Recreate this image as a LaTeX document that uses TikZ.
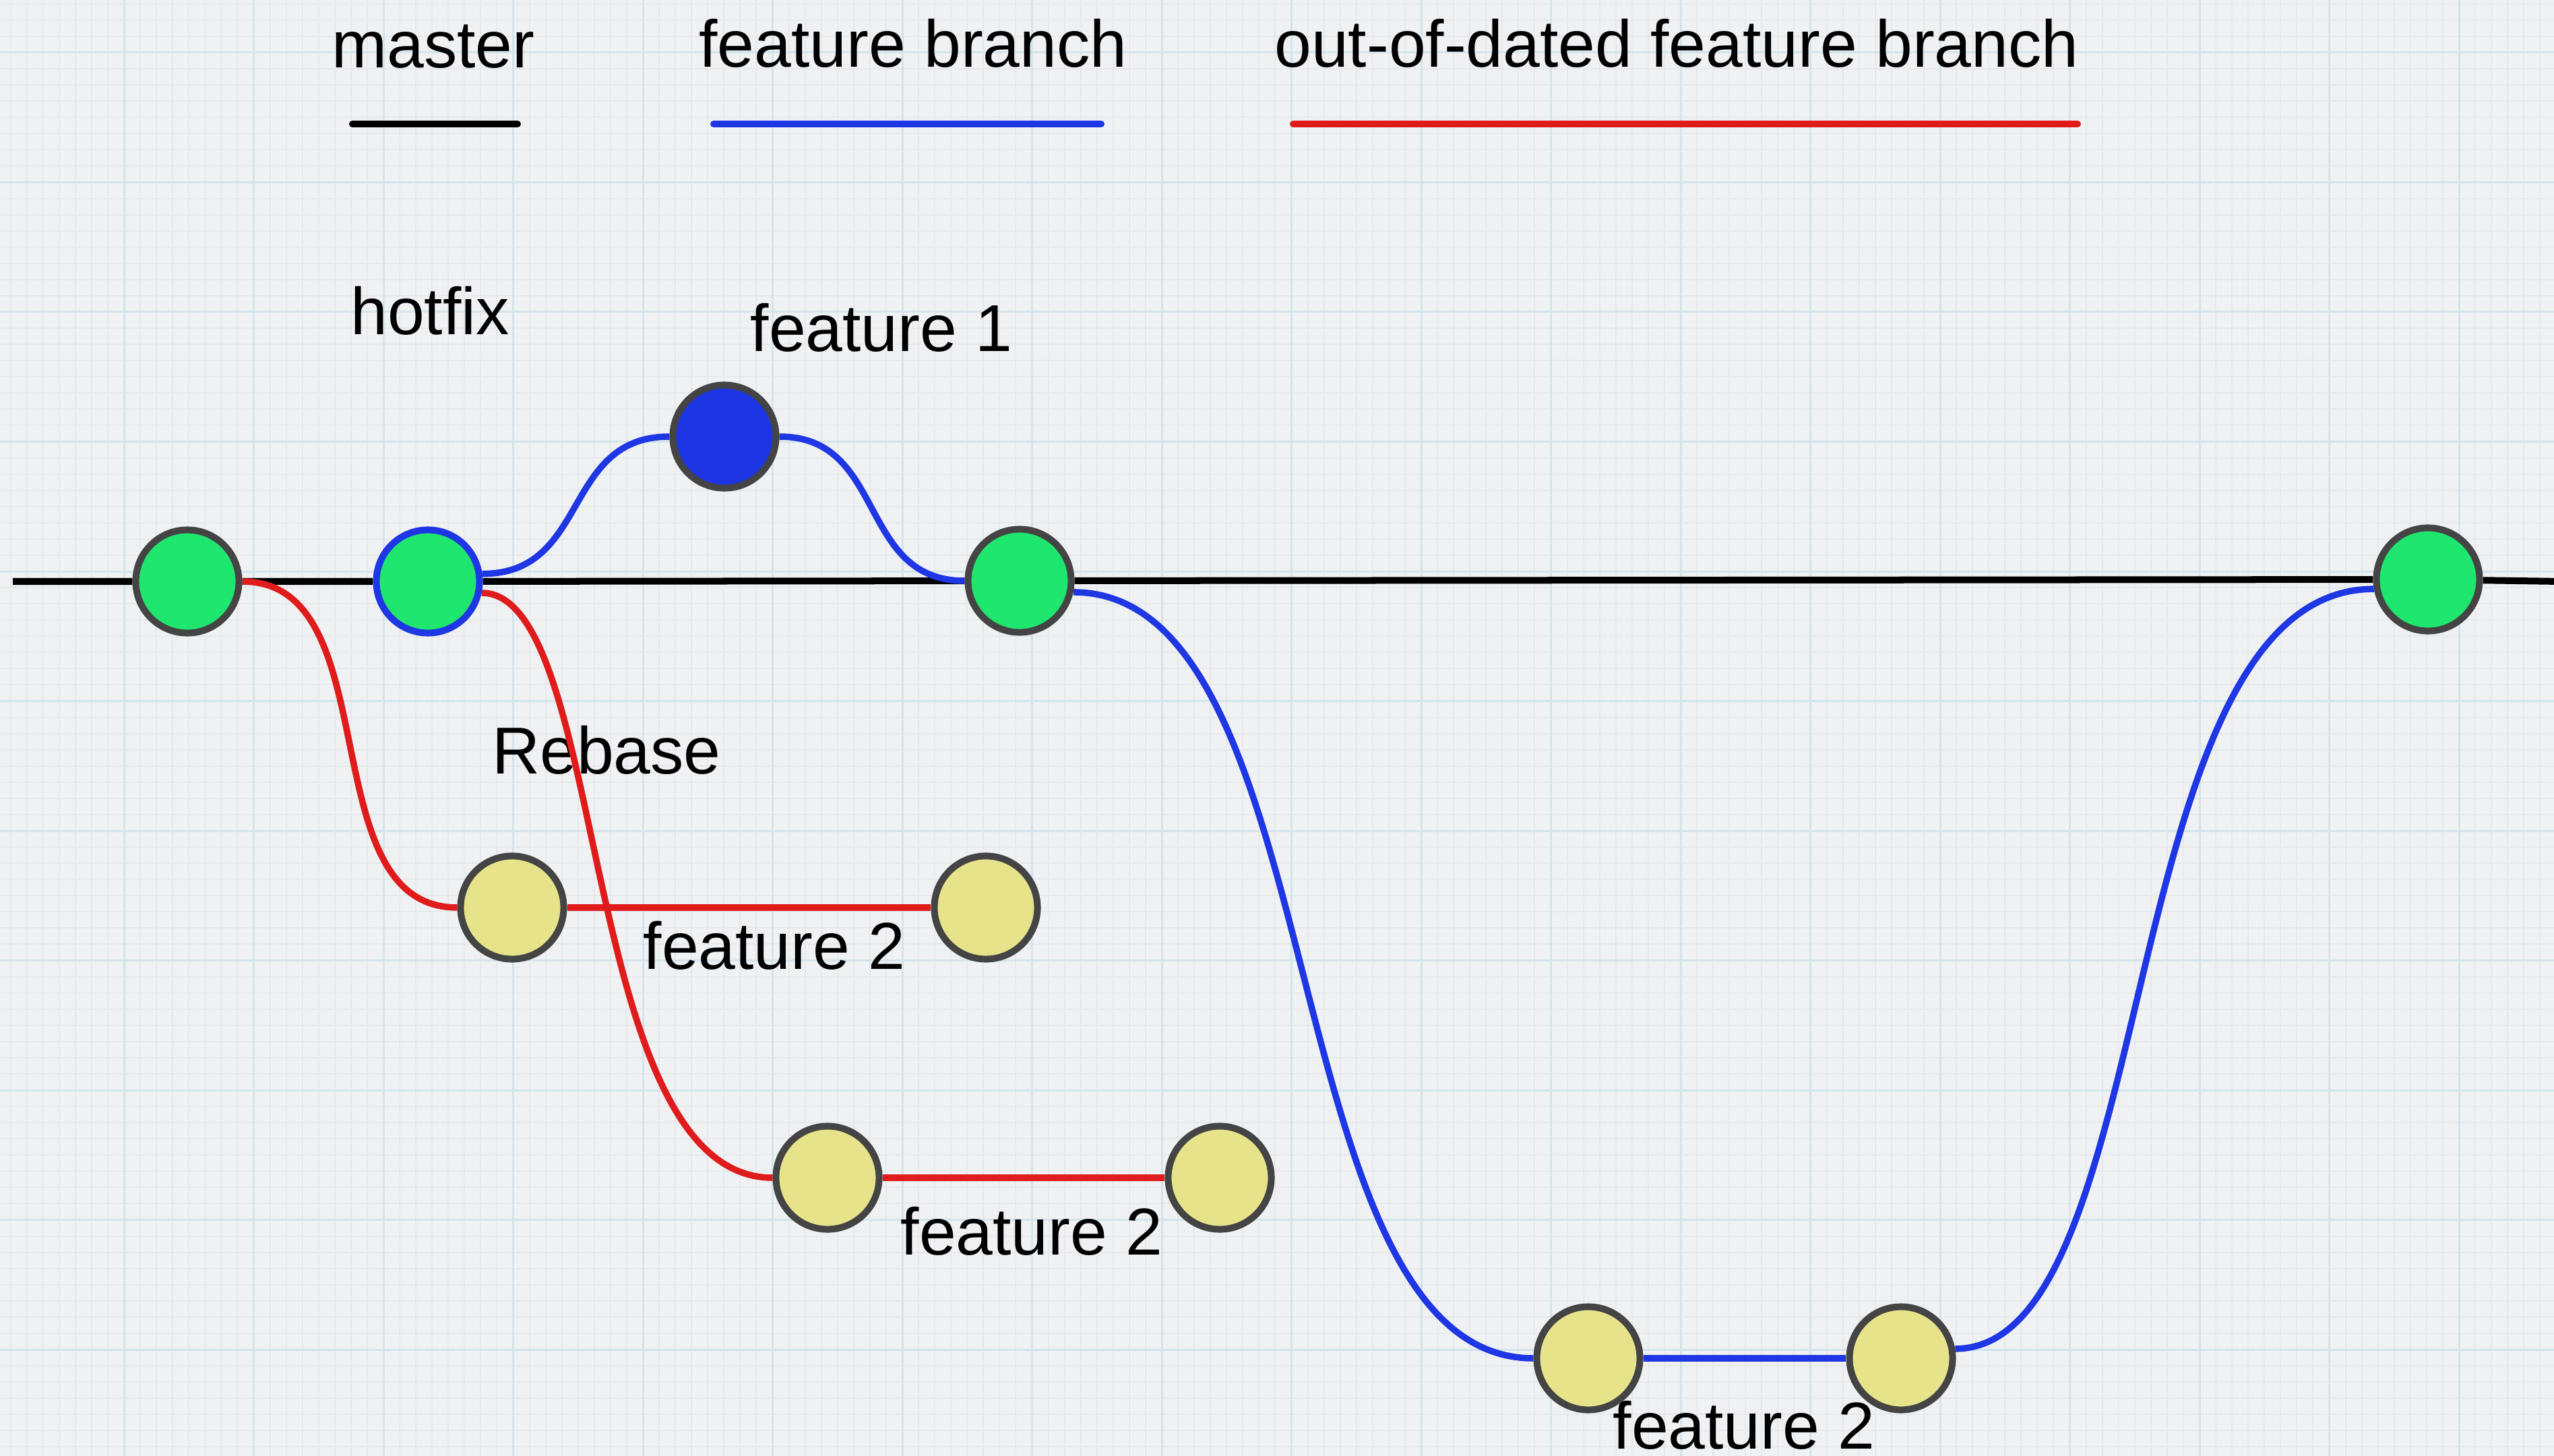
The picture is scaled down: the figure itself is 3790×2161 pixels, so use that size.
\documentclass[tikz,border=0pt]{standalone}
\usepackage{fontspec}
\setmainfont{Liberation Sans}
\pgfdeclarelayer{grid}
\pgfdeclarelayer{under}
\pgfdeclarelayer{edges}
\pgfsetlayers{grid,under,edges,main}
\definecolor{paper}{HTML}{F0F1F3}
\definecolor{gminor}{HTML}{E4E9EC}
\definecolor{gmajor}{HTML}{D2E4EC}
\definecolor{commitgreen}{HTML}{1FE66E}
\definecolor{featblue}{HTML}{1E36E3}
\definecolor{oldred}{HTML}{E01B1B}
\definecolor{commityellow}{HTML}{E6E38A}
\definecolor{rim}{HTML}{444444}
\begin{document}
\begin{tikzpicture}[x=0.01cm,y=-0.01cm,
  commit/.style={circle, minimum size=1.53cm, inner sep=0pt, line width=0.1cm, draw=rim},
  greencommit/.style={commit, fill=commitgreen},
  bluecommit/.style={commit, fill=featblue},
  yellowcommit/.style={commit, fill=commityellow},
  lbl/.style={anchor=base, font=\fontsize{28pt}{32pt}\selectfont, inner sep=0pt, text=black},
  masterline/.style={line width=0.1cm, black},
  blueline/.style={line width=0.095cm, featblue},
  redline/.style={line width=0.095cm, oldred},
  minorgrid/.style={gminor, line width=0.02cm},
  majorgrid/.style={gmajor, line width=0.03cm},
  legendline/.style={line width=0.1cm, line cap=round}
]
\useasboundingbox (0,0) rectangle (3790,2161);
\clip (0,0) rectangle (3790,2161);

% background paper with grid
\begin{pgfonlayer}{grid}
  \fill[paper] (0,0) rectangle (3790,2161);
  \foreach \k in {-8,...,157} \draw[minorgrid] ({184+24.0625*\k},0) -- ++(0,2161);
  \foreach \k in {-4,...,87} \draw[minorgrid] (0,{78+24.0625*\k}) -- ++(3790,0);
  \foreach \k in {-1,...,19} \draw[majorgrid] ({184+192.5*\k},0) -- ++(0,2161);
  \foreach \k in {-1,...,11} \draw[majorgrid] (0,{78+192.5*\k}) -- ++(3790,0);
\end{pgfonlayer}

% legend
\node[lbl] (lmaster) at (643,101) {master};
\node[lbl] (lfeat) at (1355,100) {feature branch};
\node[lbl] (lold) at (2488,100) {out-of-dated feature branch};
\draw[legendline, black] (523,184) -- (768,184);
\draw[legendline, featblue] (1059,184) -- (1634,184);
\draw[legendline, oldred] (1919,184) -- (3083,184);

% commits
\node[greencommit] (g1) at (278,863) {};
\node[greencommit, draw=featblue] (g2) at (635,863) {};
\node[bluecommit] (b1) at (1075,648) {};
\node[greencommit] (g3) at (1513,862) {};
\node[greencommit] (g4) at (3603,860) {};
\node[yellowcommit] (y1) at (760,1347) {};
\node[yellowcommit] (y2) at (1463,1347) {};
\node[yellowcommit] (y3) at (1228,1748) {};
\node[yellowcommit] (y4) at (1810,1748) {};
\node[yellowcommit] (y5) at (2357,2016) {};
\node[yellowcommit] (y6) at (2821,2016) {};

\coordinate (mstart) at (19,863);
\coordinate (mend) at (3800,863);

% labels
\node[lbl] (lhotfix) at (638,497) {hotfix};
\node[lbl] (lf1) at (1308,522) {feature 1};
\begin{pgfonlayer}{under}
  \node[lbl] (lrebase) at (900,1148) {Rebase};
\end{pgfonlayer}
\node[lbl] (lf2a) at (1149,1438) {feature 2};
\node[lbl] (lf2b) at (1531,1862) {feature 2};
\node[lbl] (lf2c) at (2588,2150) {feature 2};

% connectors
\begin{pgfonlayer}{edges}
  \draw[masterline] (mstart) -- (g1) -- (g2) -- (g3) -- (g4) -- (mend);
  % out-of-dated branches
  \draw[redline] (g1.east) .. controls +(220,0) and +(-220,0) .. (y1.west);
  \draw[redline] (y1) -- (y2);
  \draw[redline] (g2.-12) .. controls +(190,0) and +(-290,0) .. (y3.west);
  \draw[redline] (y3) -- (y4);
  % feature branch
  \draw[blueline] (g2.8) .. controls +(160,0) and +(-160,0) .. (b1.west);
  \draw[blueline] (b1.east) .. controls +(160,0) and +(-160,0) .. (g3.west);
  \draw[blueline] (g3.-12) .. controls +(390,0) and +(-390,0) .. (y5.west);
  \draw[blueline] (y5) -- (y6);
  \draw[blueline] (y6.10) .. controls +(310,0) and +(-390,0) .. (g4.-170);
\end{pgfonlayer}
\end{tikzpicture}
\end{document}
